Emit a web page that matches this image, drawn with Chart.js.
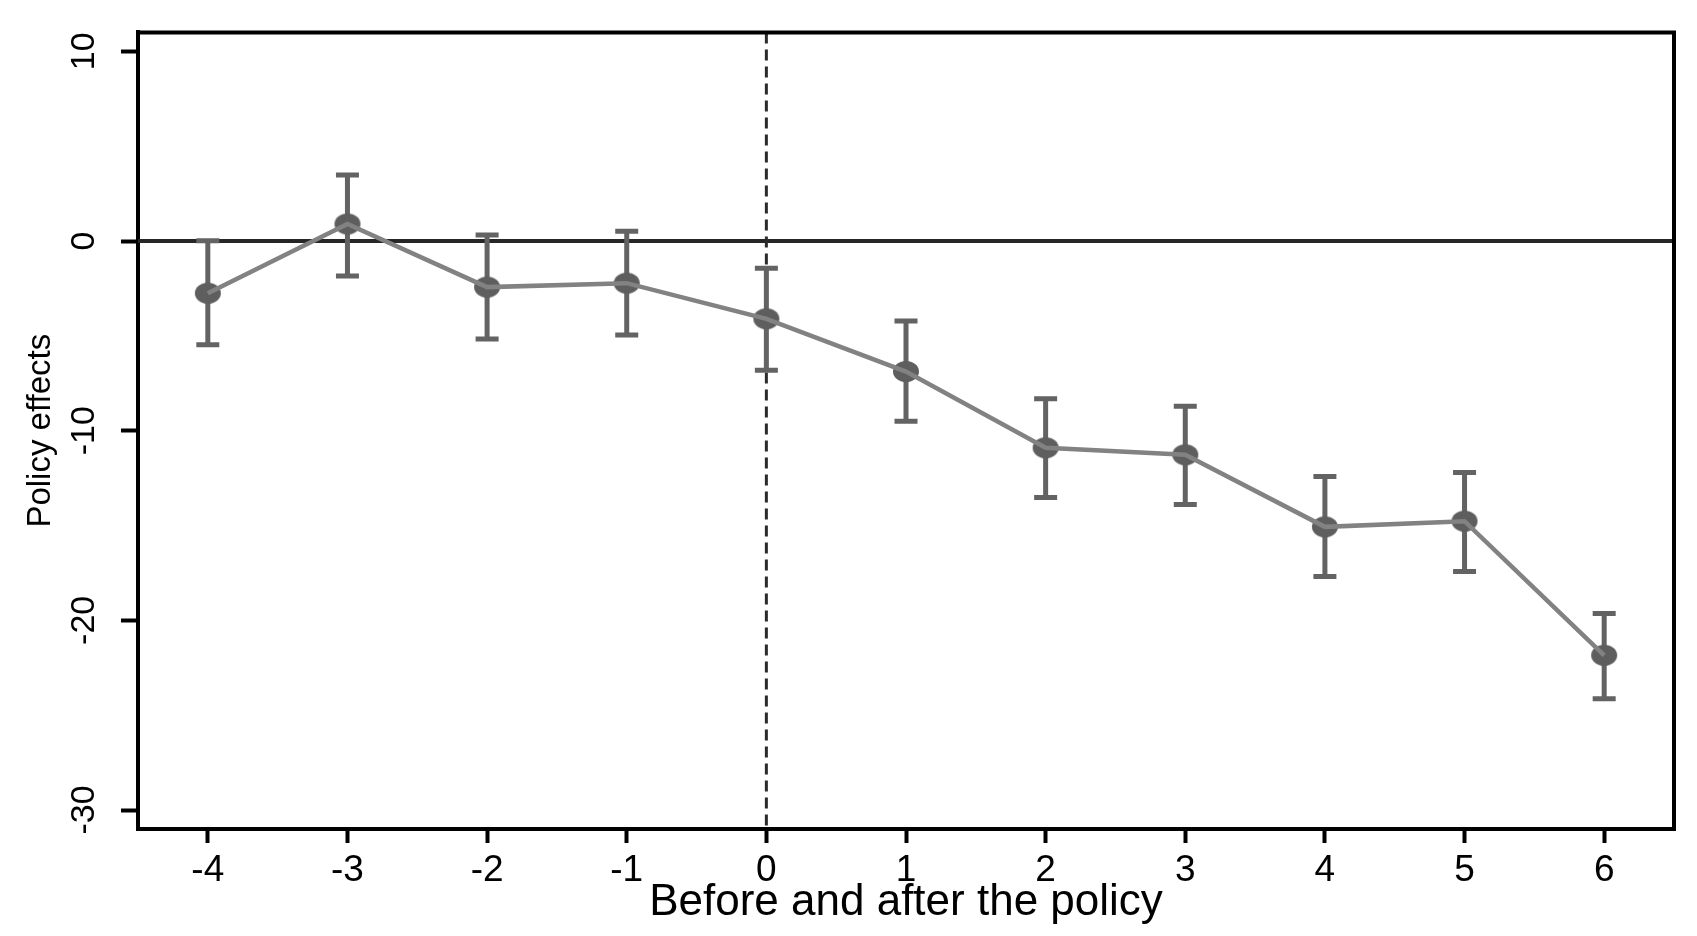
<!DOCTYPE html>
<html>
<head>
<meta charset="utf-8">
<script src="https://cdn.jsdelivr.net/npm/chart.js@4.4.0/dist/chart.umd.min.js"></script>
<style>
  html, body { margin: 0; padding: 0; background: #fff; }
  #wrap { width: 1697px; height: 936px; position: relative; }
</style>
</head>
<body>
<div id="wrap"><canvas id="eventChart"></canvas></div>
<script>
// event-study estimates
const periods = [-4, -3, -2, -1, 0, 1, 2, 3, 4, 5, 6];
const effects = [-2.75, 0.9, -2.43, -2.22, -4.10, -6.88, -10.90, -11.27, -15.07, -14.77, -21.84];
const ciLow = [-5.47, -1.85, -5.16, -4.96, -6.81, -9.50, -13.52, -13.89, -17.69, -17.42, -24.13];
const ciHigh = [0.02, 3.48, 0.32, 0.51, -1.43, -4.22, -8.31, -8.71, -12.41, -12.20, -19.64];
const xTicks = [-4, -3, -2, -1, 0, 1, 2, 3, 4, 5, 6];
const yTicks = [-30, -20, -10, 0, 10];

const fam = '"Liberation Sans", Arial, sans-serif';

// slightly wide dot like the stata marker
const dot = document.createElement('canvas');
dot.width = 28; dot.height = 23;
const dctx = dot.getContext('2d');
dctx.fillStyle = '#5e5e5e';
dctx.beginPath();
dctx.ellipse(14, 11.5, 13, 10.5, 0, 0, Math.PI * 2);
dctx.fill();

const points = periods.map((p, i) => ({ x: p, y: effects[i] }));

const overlay = {
  id: 'overlay',
  beforeDatasetsDraw(chart) {
    const { ctx, chartArea: a, scales: { x, y } } = chart;
    ctx.save();
    // zero line
    const y0 = y.getPixelForValue(0);
    ctx.strokeStyle = '#262626';
    ctx.lineWidth = 4;
    ctx.beginPath(); ctx.moveTo(a.left, y0); ctx.lineTo(a.right, y0); ctx.stroke();
    // policy year
    const x0 = x.getPixelForValue(0);
    ctx.strokeStyle = '#2b2b2b';
    ctx.lineWidth = 3;
    ctx.setLineDash([11, 6]);
    ctx.beginPath(); ctx.moveTo(x0, a.top); ctx.lineTo(x0, a.bottom); ctx.stroke();
    ctx.setLineDash([]);
    // confidence intervals
    ctx.strokeStyle = '#636363';
    ctx.lineWidth = 5;
    periods.forEach((p, i) => {
      const px = x.getPixelForValue(p);
      const lo = y.getPixelForValue(ciLow[i]);
      const hi = y.getPixelForValue(ciHigh[i]);
      ctx.beginPath();
      ctx.moveTo(px, lo); ctx.lineTo(px, hi);
      ctx.moveTo(px - 11.5, lo); ctx.lineTo(px + 11.5, lo);
      ctx.moveTo(px - 11.5, hi); ctx.lineTo(px + 11.5, hi);
      ctx.stroke();
    });
    ctx.restore();
  },
  afterDraw(chart) {
    const { ctx, chartArea: a } = chart;
    ctx.save();
    ctx.strokeStyle = '#000';
    ctx.lineWidth = 4;
    ctx.beginPath();
    ctx.moveTo(a.left - 2, a.top);
    ctx.lineTo(a.right, a.top);
    ctx.lineTo(a.right, a.bottom + 2);
    ctx.stroke();
    ctx.restore();
  }
};

const ctx = document.getElementById('eventChart').getContext('2d');
const eventChart = new Chart(ctx, {
  type: 'line',
  data: {
    datasets: [
      {
        data: points,
        borderColor: '#828282',
        borderWidth: 4.5,
        pointRadius: 0,
        fill: false,
        order: 0
      },
      {
        data: points,
        showLine: false,
        pointStyle: dot,
        pointRadius: 10,
        order: 1
      }
    ]
  },
  options: {
    responsive: true,
    maintainAspectRatio: false,
    animation: false,
    layout: { padding: { top: 32, right: 23, left: 0, bottom: 0 } },
    plugins: { legend: { display: false }, tooltip: { enabled: false } },
    scales: {
      x: {
        type: 'linear',
        min: -4.5,
        max: 6.5,
        afterBuildTicks: s => { s.ticks = xTicks.map(v => ({ value: v })); },
        afterFit: s => { s.height = 107; },
        border: { display: true, color: '#000', width: 4 },
        grid: { drawOnChartArea: false, drawTicks: true, tickLength: 14, tickWidth: 4, tickColor: '#000' },
        ticks: { color: '#000', font: { family: fam, size: 37 }, padding: 6, autoSkip: false, maxRotation: 0 },
        title: {
          display: true,
          text: 'Before and after the policy',
          color: '#000',
          font: { family: fam, size: 44 },
          padding: { top: 0, bottom: 7 }
        }
      },
      y: {
        type: 'linear',
        min: -31,
        max: 11,
        afterBuildTicks: s => { s.ticks = yTicks.map(v => ({ value: v })); },
        afterFit: s => { s.width = 138; },
        border: { display: true, color: '#000', width: 4 },
        grid: { drawOnChartArea: false, drawTicks: true, tickLength: 17, tickWidth: 4, tickColor: '#000' },
        ticks: {
          color: '#000',
          font: { family: fam, size: 34 },
          minRotation: 90,
          maxRotation: 90,
          crossAlign: 'center',
          padding: 12,
          autoSkip: false
        },
        title: {
          display: true,
          text: 'Policy effects',
          color: '#000',
          font: { family: fam, size: 33 },
          padding: { top: 21, bottom: 0 }
        }
      }
    }
  },
  plugins: [overlay]
});
</script>
</body>
</html>
